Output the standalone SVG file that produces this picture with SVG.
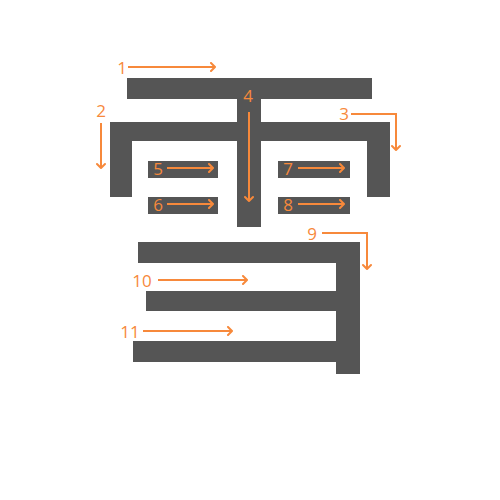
<svg xmlns="http://www.w3.org/2000/svg" width="500" height="500" viewBox="0 0 500 500">
<style>
.s{fill:#555555}
.a{fill:none;stroke:#f7893b;stroke-width:2;marker-end:url(#ah)}
.t{font-family:"Open Sans","Liberation Sans",sans-serif;font-size:17px;font-weight:500;fill:#f7893b;text-anchor:middle;dominant-baseline:central}
</style>
<defs>
<marker id="ah" markerWidth="10" markerHeight="10" refX="7" refY="5" orient="auto" markerUnits="userSpaceOnUse">
<path d="M3,1 L7,5 L3,9" fill="none" stroke="#f7893b" stroke-width="2" stroke-linecap="round" stroke-linejoin="round"/>
</marker>
</defs>
<g id="strokes">
<g id="stroke1"><rect class="s" x="127" y="78" width="245" height="21"/></g>
<g id="stroke2"><path class="s" d="M110,122 H249 V141 H132 V197 H110 Z"/></g>
<g id="stroke3"><path class="s" d="M249,122 H390 V197 H367 V141 H249 Z"/></g>
<g id="stroke4"><rect class="s" x="237" y="99" width="24" height="128"/></g>
<g id="stroke5"><rect class="s" x="148" y="161" width="70" height="17"/></g>
<g id="stroke6"><rect class="s" x="148" y="197" width="70" height="17"/></g>
<g id="stroke7"><rect class="s" x="278" y="161" width="72" height="17"/></g>
<g id="stroke8"><rect class="s" x="278" y="197" width="72" height="17"/></g>
<g id="stroke9"><path class="s" d="M138,242 H360 V374 H336 V263 H138 Z"/></g>
<g id="stroke10"><rect class="s" x="146" y="291" width="191" height="20"/></g>
<g id="stroke11"><rect class="s" x="133" y="341" width="204" height="21"/></g>
</g>
<g id="connectors">
<path class="a" d="M128,67 H215"/>
<path class="a" d="M101,123 V168"/>
<path class="a" d="M351,114 H396 V150"/>
<path class="a" d="M249,112 V201"/>
<path class="a" d="M167,168 H213"/>
<path class="a" d="M167,204 H213"/>
<path class="a" d="M298,168 H344"/>
<path class="a" d="M298,204 H344"/>
<path class="a" d="M322,233 H367 V269"/>
<path class="a" d="M158,280 H247"/>
<path class="a" d="M143,331 H232"/>
</g>
<g id="labels">
<text class="t" x="122" y="67">1</text>
<text class="t" x="101" y="110">2</text>
<text class="t" x="344" y="113">3</text>
<text class="t" x="248" y="95">4</text>
<text class="t" x="158" y="168">5</text>
<text class="t" x="158" y="204">6</text>
<text class="t" x="288" y="168">7</text>
<text class="t" x="288" y="204">8</text>
<text class="t" x="312" y="233">9</text>
<text class="t" x="142" y="280">10</text>
<text class="t" x="130" y="331">11</text>
</g>
</svg>
